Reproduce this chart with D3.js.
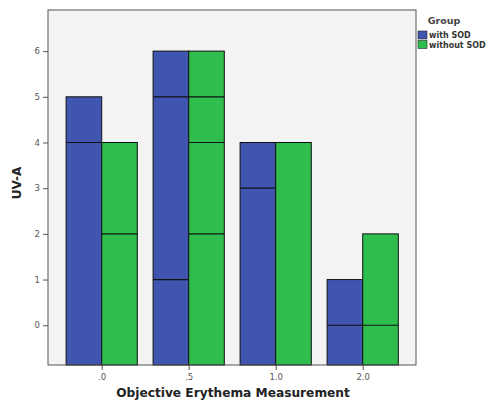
<!DOCTYPE html>
<html><head><meta charset="utf-8">
<script src="https://cdn.jsdelivr.net/npm/d3@7"></script>
<style>body{margin:0;background:#fff}svg{display:block}</style>
</head><body>
<svg id="c" width="489" height="400"></svg>
<script>
const categories = [".0", ".5", "1.0", "2.0"];
const groups = ["with SOD", "without SOD"];
// segment boundaries (cumulative values) for each bar; last = bar top
const withSOD = [[4, 5], [1, 5, 6], [3, 4], [0, 1]];
const withoutSOD = [[2, 4], [2, 4, 5, 6], [4], [0, 2]];
const yTicks = [0, 1, 2, 3, 4, 5, 6];
const colors = ["#3f55b0", "#2fbe4e"];

const svg = d3.select("#c");
const L = 48, R = 416, T = 10, B = 365;
const y = d3.scaleLinear().domain([-0.87, 6.9]).range([B, T]);
const x = d3.scalePoint().domain(categories).range([101.7, 362.7]);
const bw = 35.6;

svg.append("rect").attr("x", L).attr("y", T).attr("width", R - L).attr("height", B - T)
  .attr("fill", "#f3f3f3");

const series = [withSOD, withoutSOD];
series.forEach((s, gi) => {
  const g = svg.append("g");
  s.forEach((cuts, ci) => {
    const x0 = x(categories[ci]) + (gi === 0 ? -bw : 0);
    const top = cuts[cuts.length - 1];
    g.append("rect").attr("x", x0).attr("y", y(top)).attr("width", bw)
      .attr("height", B - y(top)).attr("fill", colors[gi])
      .attr("stroke", "#111").attr("stroke-width", 1);
    cuts.slice(0, -1).forEach(v => {
      g.append("line").attr("x1", x0).attr("x2", x0 + bw).attr("y1", y(v)).attr("y2", y(v))
        .attr("stroke", "#111").attr("stroke-width", 1.2);
    });
  });
});

svg.append("rect").attr("x", L).attr("y", T).attr("width", R - L).attr("height", B - T)
  .attr("fill", "none").attr("stroke", "#555").attr("stroke-width", 1);

const yAxis = svg.append("g").attr("transform", `translate(${L},0)`)
  .call(d3.axisLeft(y).tickValues(yTicks).tickSize(5).tickPadding(3).tickFormat(d3.format("d")));
const xAxis = svg.append("g").attr("transform", `translate(0,${B})`)
  .call(d3.axisBottom(x).tickSize(5).tickPadding(4));
[yAxis, xAxis].forEach(a => {
  a.select(".domain").remove();
  a.selectAll("line").attr("stroke", "#555");
  a.selectAll("text").attr("fill", "#555").style("font-family", "DejaVu Sans, sans-serif").style("font-size", "8.5px");
});

svg.append("text").attr("x", 233).attr("y", 397).attr("text-anchor", "middle")
  .style("font-family", "DejaVu Sans, sans-serif").style("font-weight", "bold").style("font-size", "12.2px")
  .attr("fill", "#222").text("Objective Erythema Measurement");
svg.append("text").attr("transform", "translate(21,183) rotate(-90)").attr("text-anchor", "middle")
  .style("font-family", "DejaVu Sans, sans-serif").style("font-weight", "bold").style("font-size", "12px")
  .attr("fill", "#222").text("UV-A");

const lg = svg.append("g");
lg.append("text").attr("x", 444).attr("y", 24).attr("text-anchor", "middle")
  .style("font-family", "DejaVu Sans, sans-serif").style("font-weight", "bold").style("font-size", "9.5px")
  .attr("fill", "#444").text("Group");
groups.forEach((gname, i) => {
  lg.append("rect").attr("x", 418).attr("y", 31 + i * 9.5).attr("width", 9).attr("height", 8)
    .attr("fill", colors[i]).attr("stroke", "#222").attr("stroke-width", 0.6);
  lg.append("text").attr("x", 429).attr("y", 38 + i * 9.5)
    .style("font-family", "DejaVu Sans, sans-serif").style("font-weight", "bold").style("font-size", "8px")
    .attr("fill", "#333").text(gname);
});
</script>
</body></html>
